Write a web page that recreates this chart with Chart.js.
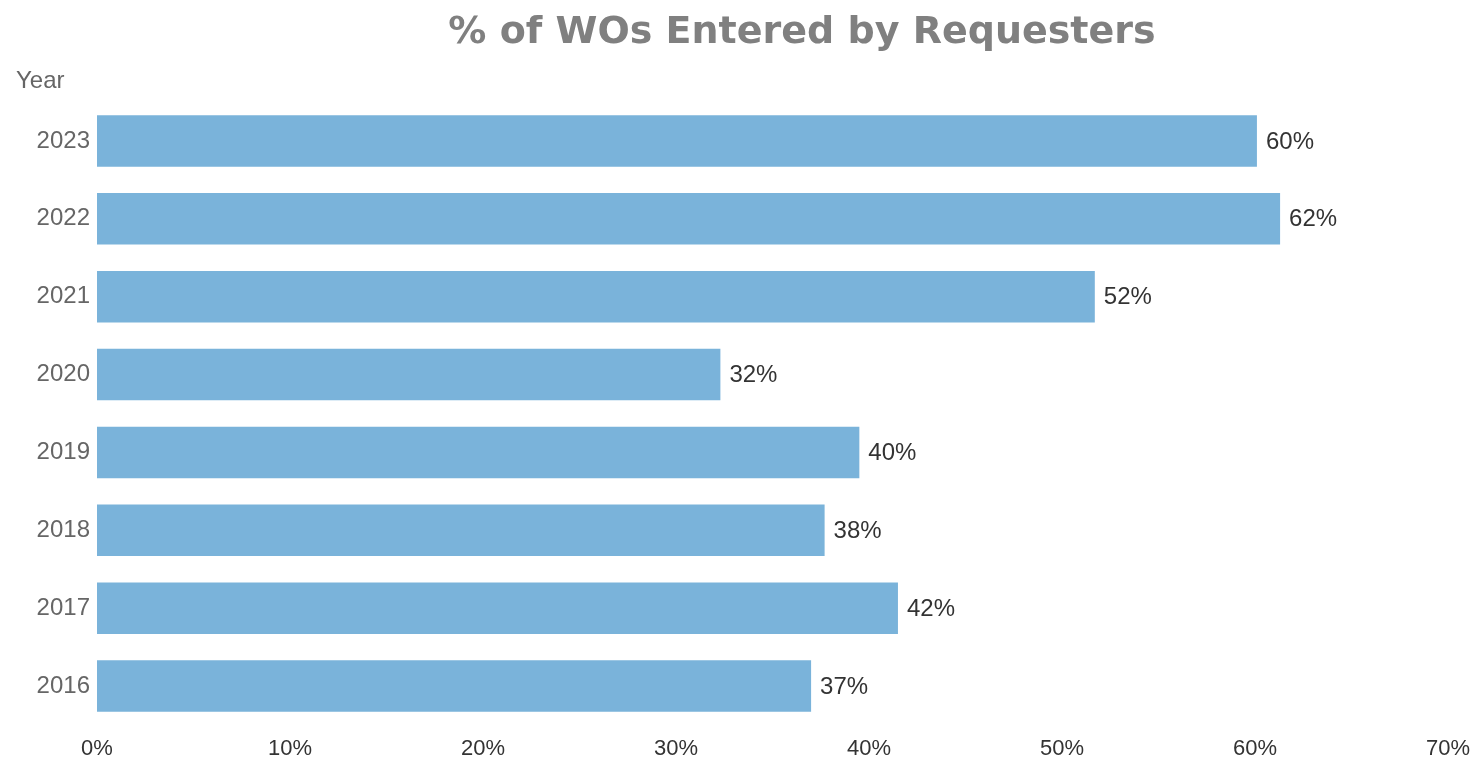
<!DOCTYPE html>
<html>
<head>
<meta charset="utf-8">
<script src="https://cdn.jsdelivr.net/npm/chart.js@4/dist/chart.umd.min.js"></script>
<style>
  html, body { margin: 0; padding: 0; background: #fff; }
  canvas { display: block; }
</style>
</head>
<body>
<canvas id="chart" width="1477" height="764"></canvas>
<script>
// data
const years = ['2023', '2022', '2021', '2020', '2019', '2018', '2017', '2016'];
const shares = [60.1, 61.3, 51.7, 32.3, 39.5, 37.7, 41.5, 37.0];
const shareLabels = ['60%', '62%', '52%', '32%', '40%', '38%', '42%', '37%'];
const xTicks = [0, 10, 20, 30, 40, 50, 60, 70];

const titleText = '% of WOs Entered by Requesters';

// title, "Year" caption and the value at the end of each bar
const extras = {
    id: 'extras',
    afterDraw(chart) {
        const ctx = chart.ctx;
        ctx.save();
        ctx.fillStyle = '#808080';
        ctx.font = 'bold 38px "DejaVu Sans"';
        ctx.textAlign = 'center';
        ctx.textBaseline = 'middle';
        ctx.fillText(titleText, 802, 33);

        ctx.font = '24px "Liberation Sans"';
        ctx.fillStyle = '#666';
        ctx.textAlign = 'left';
        ctx.fillText('Year', 16, 81);

        const meta = chart.getDatasetMeta(0);
        ctx.font = '24px "Liberation Sans"';
        ctx.fillStyle = '#333';
        meta.data.forEach((bar, i) => {
            ctx.fillText(shareLabels[i], bar.x + 9, bar.y + 1);
        });
        ctx.restore();
    }
};

const ctx = document.getElementById('chart').getContext('2d');
new Chart(ctx, {
    type: 'bar',
    data: {
        labels: years,
        datasets: [{
            data: shares,
            backgroundColor: '#7ab3da',
            borderWidth: 0,
            categoryPercentage: 1,
            barPercentage: 0.66
        }]
    },
    options: {
        indexAxis: 'y',
        responsive: false,
        animation: false,
        layout: { padding: { top: 102, right: 29, bottom: 0, left: 0 } },
        plugins: {
            legend: { display: false },
            tooltip: { enabled: false }
        },
        scales: {
            x: {
                min: 0,
                max: 70,
                afterBuildTicks(scale) {
                    scale.ticks = xTicks.map(v => ({ value: v }));
                },
                afterFit(scale) {
                    scale.height = 39;
                    // let the 70% label hang over the edge like the original
                    scale.paddingLeft = 0;
                    scale.paddingRight = 0;
                },
                grid: { display: false, drawTicks: false },
                border: { display: false },
                ticks: {
                    padding: 11,
                    color: '#333',
                    font: { family: '"Liberation Sans"', size: 22 },
                    callback: v => v + '%'
                }
            },
            y: {
                afterFit(scale) { scale.width = 97; },
                grid: { display: false, drawTicks: false },
                border: { display: false },
                ticks: {
                    padding: 7,
                    color: '#666',
                    font: { family: '"Liberation Sans"', size: 24 }
                }
            }
        }
    },
    plugins: [extras]
});
</script>
</body>
</html>
